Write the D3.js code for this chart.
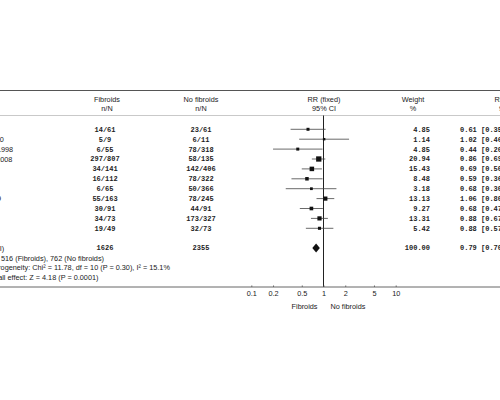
<!DOCTYPE html>
<html><head><meta charset="utf-8">
<script src="https://cdn.jsdelivr.net/npm/d3@7"></script>
<style>
html,body{margin:0;padding:0;background:#fff;}
svg{display:block;}
.sans{font-family:"Liberation Sans",Arial,sans-serif;font-size:7.3px;fill:#222;}
.mono{font-family:"Liberation Mono","Courier New",monospace;font-size:7px;fill:#222;font-weight:bold;}
</style></head>
<body><svg id="c" width="500" height="400"></svg>
<script>
// ---- data ----
const studies = ["Farhi 1995","Narayan 2000","Eldar-Geva 1998","Somigliana 2008","Hart 2001","Check 2002","Jun 2001","Bozdag 2009","Surrey 2001","Ramzy 1998","Wang 2006"];
const fibEvents = [14,5,6,297,34,16,6,55,30,34,19];
const fibTotal  = [61,9,55,807,141,112,65,163,91,73,49];
const noEvents  = [23,6,78,58,142,78,50,78,44,173,32];
const noTotal   = [61,11,318,135,406,322,366,245,91,327,73];
const weights   = [4.85,1.14,4.85,20.94,15.43,8.48,3.18,13.13,9.27,13.31,5.42];
const rr        = [0.61,1.02,0.44,0.86,0.69,0.59,0.68,1.06,0.68,0.88,0.88];
const rrLower   = [0.35,0.46,0.20,0.69,0.50,0.36,0.30,0.80,0.47,0.67,0.57];
const rrUpper   = [1.07,2.26,0.97,1.06,0.95,0.97,1.51,1.41,0.98,1.15,1.37];
const totalFib = 1626, totalNo = 2355, totalWeight = 100.00;
const totalRR = 0.79, totalLower = 0.70, totalUpper = 0.89;
const axisTicks = [0.1,0.2,0.5,1,2,5,10];
const headers1 = ["Fibroids","No fibroids","RR (fixed)","Weight","RR (fixed)"];
const headers2 = ["n/N","n/N","95% CI","%","95% CI"];
const footLines = [
  "Total events: 516 (Fibroids), 762 (No fibroids)",
  "Test for heterogeneity: Chi\u00B2 = 11.78, df = 10 (P = 0.30), I\u00B2 = 15.1%",
  "Test for overall effect: Z = 4.18 (P = 0.0001)"
];
const favourLabels = ["Fibroids","No fibroids"];

// ---- layout ----
const svg = d3.select("#c");
const x = d3.scaleLog().domain([0.1,10]).range([251.3,395.7]);
const y = d3.scaleLinear().domain([0,10]).range([129.3,228.3]);
const sq = d3.scaleLinear().domain([0,21]).range([2.3,5.3]);
const nameX = -42;
const colFib = 105, colNo = 201, colW = 430, colRR = 460;
const hx = [107,201,324,413,511];
const fmt2 = d3.format(".2f");
const idx = d3.range(studies.length);

// lines
svg.append("line").attr("x1",0).attr("x2",500).attr("y1",90.5).attr("y2",90.5).attr("stroke","#555").attr("stroke-width",1);
svg.append("line").attr("x1",0).attr("x2",500).attr("y1",115.5).attr("y2",115.5).attr("stroke","#bbb").attr("stroke-width",0.8);
svg.append("line").attr("x1",0).attr("x2",500).attr("y1",287).attr("y2",287).attr("stroke","#666").attr("stroke-width",1);

// headers
svg.selectAll("text.h1").data(headers1).join("text").attr("class","sans h1")
  .attr("x",(d,i)=>hx[i]).attr("y",101.5).attr("text-anchor","middle").text(d=>d);
svg.selectAll("text.h2").data(headers2).join("text").attr("class","sans h2")
  .attr("x",(d,i)=>hx[i]).attr("y",111).attr("text-anchor","middle").text(d=>d);

// study rows
svg.selectAll("text.name").data(idx).join("text").attr("class","sans name")
  .attr("x",nameX).attr("y",i=>y(i)+2.5).text(i=>studies[i]);
svg.selectAll("text.fib").data(idx).join("text").attr("class","mono fib")
  .attr("x",colFib).attr("y",i=>y(i)+2.4).attr("text-anchor","middle").text(i=>fibEvents[i]+"/"+fibTotal[i]);
svg.selectAll("text.no").data(idx).join("text").attr("class","mono no")
  .attr("x",colNo).attr("y",i=>y(i)+2.4).attr("text-anchor","middle").text(i=>noEvents[i]+"/"+noTotal[i]);
svg.selectAll("text.w").data(idx).join("text").attr("class","mono w")
  .attr("x",colW).attr("y",i=>y(i)+2.4).attr("text-anchor","end").text(i=>fmt2(weights[i]));
svg.selectAll("text.rr").data(idx).join("text").attr("class","mono rr")
  .attr("x",colRR).attr("y",i=>y(i)+2.4).text(i=>fmt2(rr[i])+" ["+fmt2(rrLower[i])+", "+fmt2(rrUpper[i])+"]");

// reference line at 1
svg.append("line").attr("x1",x(1)).attr("x2",x(1)).attr("y1",115.5).attr("y2",287).attr("stroke","#222").attr("stroke-width",1);

// CIs and squares
svg.selectAll("line.ci").data(idx).join("line").attr("class","ci")
  .attr("x1",i=>x(rrLower[i])).attr("x2",i=>x(rrUpper[i])).attr("y1",i=>y(i)).attr("y2",i=>y(i))
  .attr("stroke","#444").attr("stroke-width",0.8);
svg.selectAll("rect.sq").data(idx).join("rect").attr("class","sq")
  .attr("x",i=>x(rr[i])-sq(weights[i])/2).attr("y",i=>y(i)-sq(weights[i])/2)
  .attr("width",i=>sq(weights[i])).attr("height",i=>sq(weights[i])).attr("fill","#111");

// total row
const yT = 248;
svg.append("text").attr("class","sans").attr("x",nameX).attr("y",yT+2.5).text("Total (95% CI)");
svg.append("text").attr("class","mono").attr("x",colFib).attr("y",yT+2.4).attr("text-anchor","middle").text(totalFib);
svg.append("text").attr("class","mono").attr("x",colNo).attr("y",yT+2.4).attr("text-anchor","middle").text(totalNo);
svg.append("text").attr("class","mono").attr("x",colW).attr("y",yT+2.4).attr("text-anchor","end").text(fmt2(totalWeight));
svg.append("text").attr("class","mono").attr("x",colRR).attr("y",yT+2.4).text(fmt2(totalRR)+" ["+fmt2(totalLower)+", "+fmt2(totalUpper)+"]");
svg.append("path").attr("fill","#111")
  .attr("d",`M${x(totalLower)},${yT}L${x(totalRR)},${yT-4.5}L${x(totalUpper)},${yT}L${x(totalRR)},${yT+4.5}Z`);

// footnotes
svg.selectAll("text.foot").data(footLines).join("text").attr("class","sans foot")
  .attr("x",nameX).attr("y",(d,i)=>258+i*9.6+2.5).text(d=>d);

// axis
const ax = svg.append("g").attr("transform","translate(0,287)")
  .call(d3.axisBottom(x).tickValues(axisTicks).tickFormat(d=>String(d)).tickSizeInner(-1.5).tickSizeOuter(0).tickPadding(3.5));
ax.select(".domain").remove();
ax.selectAll(".tick line").attr("stroke","#666");
ax.selectAll(".tick text").attr("class","sans").style("font-size","7.3px").attr("fill","#222");

// favour labels
svg.append("text").attr("class","sans").attr("x",x(1)-6).attr("y",309).attr("text-anchor","end").text(favourLabels[0]);
svg.append("text").attr("class","sans").attr("x",x(1)+7).attr("y",309).text(favourLabels[1]);
</script></body></html>
